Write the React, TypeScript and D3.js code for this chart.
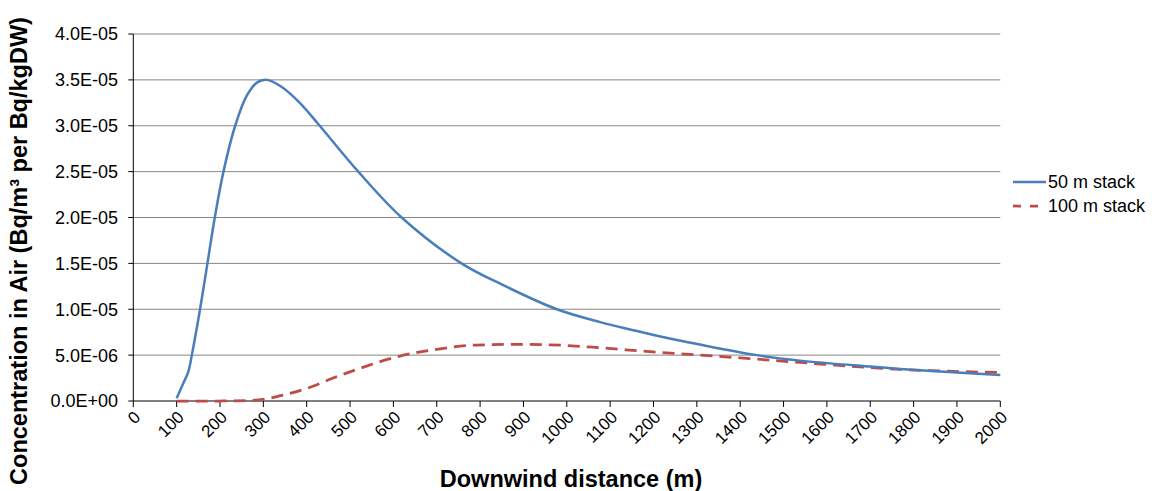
import React from "react";
import * as d3 from "d3";

const stack50X = [100, 115, 127, 135, 154, 171, 188, 208, 235, 262, 285, 308, 340, 384, 430, 519, 619, 757, 850, 977, 1077, 1146, 1200, 1307, 1438, 1538, 1700, 1769, 1900, 2000];
const stack50Y = [0.3e-6, 1.9e-6, 3.2e-6, 5.0e-6, 1.0e-5, 1.5e-5, 2.0e-5, 2.5e-5, 3.0e-5, 3.33e-5, 3.47e-5, 3.5e-5, 3.43e-5, 3.25e-5, 3.0e-5, 2.5e-5, 2.0e-5, 1.5e-5, 1.27e-5, 1.0e-5, 8.6e-6, 7.8e-6, 7.2e-6, 6.15e-6, 5.0e-6, 4.4e-6, 3.75e-6, 3.5e-6, 3.1e-6, 2.83e-6];

const stack100X = [100, 200, 284, 346, 408, 461, 523, 615, 696, 792, 892, 1000, 1077, 1192, 1307, 1400, 1538, 1769, 2000];
const stack100Y = [0, 0, 0.1e-6, 0.65e-6, 1.5e-6, 2.5e-6, 3.56e-6, 4.9e-6, 5.6e-6, 6.1e-6, 6.18e-6, 6.05e-6, 5.8e-6, 5.37e-6, 5.0e-6, 4.7e-6, 4.2e-6, 3.45e-6, 3.1e-6];

const xTicks = d3.range(0, 2001, 100);
const yTicks = [0, 5e-6, 1e-5, 1.5e-5, 2e-5, 2.5e-5, 3e-5, 3.5e-5, 4e-5];
const yTickLabels = ["0.0E+00", "5.0E-06", "1.0E-05", "1.5E-05", "2.0E-05", "2.5E-05", "3.0E-05", "3.5E-05", "4.0E-05"];
const seriesNames = ["50 m stack", "100 m stack"];
const xTitle = "Downwind distance (m)";
const yTitle = "Concentration in Air (Bq/m³ per Bq/kgDW)";

const W = 1157;
const H = 491;
const left = 133.3;
const right = 1000.3;
const top = 34;
const bottom = 401;
const FONT = "Arial, 'Liberation Sans', sans-serif";
const BLUE = "#4a7ebb";
const RED = "#be4b48";

export default function App() {
  const x = d3.scaleLinear().domain([0, 2000]).range([left, right]);
  const y = d3.scaleLinear().domain([0, 4e-5]).range([bottom, top]);
  const line50 = d3
    .line<[number, number]>()
    .x((d) => x(d[0]))
    .y((d) => y(d[1]))
    .curve(d3.curveCatmullRom.alpha(0.5));
  const line100 = d3
    .line<[number, number]>()
    .x((d) => x(d[0]))
    .y((d) => y(d[1]))
    .curve(d3.curveMonotoneX);
  const d50 = line50(stack50X.map((v, i) => [v, stack50Y[i]] as [number, number])) || "";
  const d100 = line100(stack100X.map((v, i) => [v, stack100Y[i]] as [number, number])) || "";

  return (
    <svg
      width={W}
      height={H}
      style={{ position: "absolute", left: 0, top: 0, background: "#fff" }}
      fontFamily={FONT}
    >
      {yTicks.slice(1).map((t) => (
        <line key={"g" + t} x1={left} x2={right} y1={y(t)} y2={y(t)} stroke="#868686" strokeWidth={1} />
      ))}
      {yTicks.map((t, i) => (
        <g key={"yt" + t}>
          <line x1={left - 5} x2={left} y1={y(t)} y2={y(t)} stroke="#000" strokeWidth={1} />
          <text x={118} y={y(t)} dy="0.36em" textAnchor="end" fontSize={18} fill="#000">
            {yTickLabels[i]}
          </text>
        </g>
      ))}
      {xTicks.map((t) => (
        <g key={"xt" + t}>
          <line x1={x(t)} x2={x(t)} y1={bottom} y2={bottom + 6} stroke="#000" strokeWidth={1} />
          <text
            transform={`translate(${x(t) + 4},${bottom + 13}) rotate(-45)`}
            textAnchor="end"
            dy="0.35em"
            fontSize={17}
            fill="#000"
          >
            {t}
          </text>
        </g>
      ))}
      <line x1={left} x2={left} y1={top} y2={bottom} stroke="#000" strokeWidth={1} />
      <line x1={left} x2={right} y1={bottom} y2={bottom} stroke="#000" strokeWidth={1} />
      <path d={d100} fill="none" stroke={RED} strokeWidth={2.75} strokeDasharray="12 7" />
      <path d={d50} fill="none" stroke={BLUE} strokeWidth={2.5} />
      <g>
        <line x1={1013} x2={1046} y1={182} y2={182} stroke={BLUE} strokeWidth={2.5} />
        <text x={1048} y={182} dy="0.36em" fontSize={18} fill="#000">{seriesNames[0]}</text>
        <line x1={1013} x2={1046} y1={206} y2={206} stroke={RED} strokeWidth={2.75} strokeDasharray="8 9" />
        <text x={1048} y={206} dy="0.36em" fontSize={18} fill="#000">{seriesNames[1]}</text>
      </g>
      <text x={571} y={487} textAnchor="middle" fontSize={23.5} fontWeight="bold" fill="#000">
        {xTitle}
      </text>
      <text
        transform={`translate(27,251) rotate(-90)`}
        textAnchor="middle"
        fontSize={23.5}
        fontWeight="bold"
        fill="#000"
      >
        {yTitle}
      </text>
    </svg>
  );
}
